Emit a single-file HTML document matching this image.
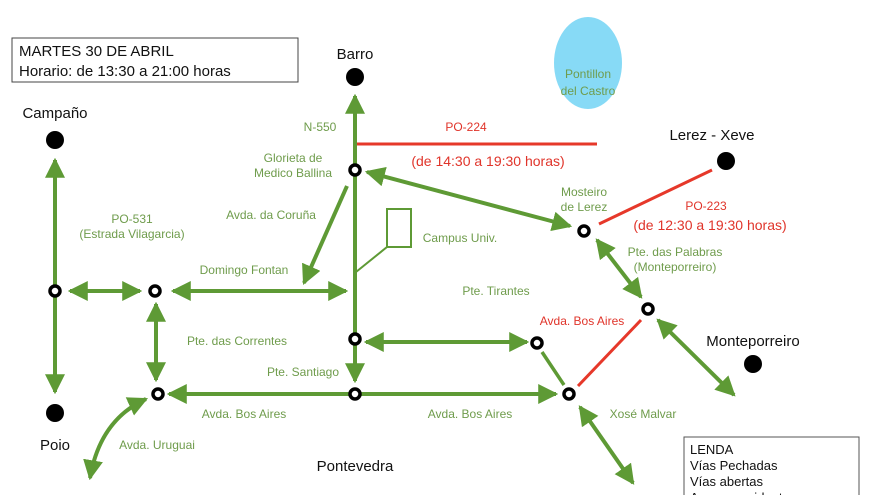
<!DOCTYPE html>
<html><head><meta charset="utf-8"><style>
html,body{margin:0;padding:0;background:#fff;}
svg{display:block;font-family:"Liberation Sans",sans-serif;}
.g{fill:#6f9c4c;font-size:12px;}
.r{fill:#e0342a;}
.k{fill:#111;}
</style></head><body>
<svg width="880" height="495" viewBox="0 0 880 495">
<defs>
<marker id="a" markerUnits="userSpaceOnUse" markerWidth="20" markerHeight="20" refX="16" refY="9" orient="auto-start-reverse" viewBox="0 0 18 18"><path d="M0,0 L18,9 L0,18 Z" fill="#5e9a35"/></marker>
<marker id="s" markerUnits="userSpaceOnUse" markerWidth="10" markerHeight="10" refX="8" refY="5" orient="auto-start-reverse" viewBox="0 0 10 10"><path d="M0,0 L10,5 L0,10 Z" fill="#5e9a35"/></marker>
</defs>
<g stroke="#5e9a35" stroke-width="4" fill="none">
<line x1="355" y1="372" x2="355" y2="96" marker-end="url(#a)"/>
<line x1="355" y1="345" x2="355" y2="381" marker-end="url(#a)"/>
<line x1="55" y1="291" x2="55" y2="160" marker-end="url(#a)"/>
<line x1="55" y1="291" x2="55" y2="392" marker-end="url(#a)"/>
<line x1="70" y1="291" x2="140" y2="291" marker-start="url(#a)" marker-end="url(#a)"/>
<line x1="173" y1="291" x2="346" y2="291" marker-start="url(#a)" marker-end="url(#a)"/>
<line x1="347" y1="186" x2="304" y2="283" marker-end="url(#a)"/>
<line x1="367" y1="172" x2="570" y2="226" marker-start="url(#a)" marker-end="url(#a)"/>
<line x1="597" y1="240" x2="641" y2="297" marker-start="url(#a)" marker-end="url(#a)"/>
<line x1="658" y1="320" x2="734" y2="395" marker-start="url(#a)" marker-end="url(#a)"/>
<line x1="366" y1="342" x2="527" y2="342" marker-start="url(#a)" marker-end="url(#a)"/>
<line x1="542" y1="352" x2="564" y2="385" stroke-width="3.5"/>
<line x1="169" y1="394" x2="556" y2="394" marker-start="url(#a)" marker-end="url(#a)"/>
<line x1="156" y1="304" x2="156" y2="380" marker-start="url(#a)" marker-end="url(#a)"/>
<path d="M146,399 Q100,420 90,478" marker-start="url(#a)" marker-end="url(#a)"/>
<line x1="580" y1="407" x2="633" y2="483" marker-start="url(#a)" marker-end="url(#a)"/>
<rect x="387" y="209" width="24" height="38" stroke-width="2"/>
<line x1="356" y1="272" x2="387" y2="247" stroke-width="2"/>
<line x1="811" y1="482" x2="847" y2="482" stroke-width="2" marker-start="url(#s)" marker-end="url(#s)"/>
</g>
<g stroke="#e6382a" stroke-width="3">
<line x1="357" y1="144" x2="597" y2="144"/>
<line x1="599" y1="224" x2="712" y2="170"/>
<line x1="578" y1="386" x2="641" y2="320"/>
<line x1="808" y1="466" x2="848" y2="466" stroke-width="2.5"/>
</g>
<ellipse cx="588" cy="63" rx="34" ry="46" fill="#87daf6"/>
<g fill="#fff" stroke="#000" stroke-width="3.5">
<circle cx="355" cy="170" r="5"/><circle cx="355" cy="339" r="5"/><circle cx="355" cy="394" r="5"/>
<circle cx="55" cy="291" r="5"/><circle cx="155" cy="291" r="5"/><circle cx="158" cy="394" r="5"/>
<circle cx="537" cy="343" r="5"/><circle cx="569" cy="394" r="5"/><circle cx="584" cy="231" r="5"/><circle cx="648" cy="309" r="5"/>
</g>
<g fill="#000">
<circle cx="355" cy="77" r="9"/><circle cx="55" cy="140" r="9"/><circle cx="726" cy="161" r="9"/><circle cx="753" cy="364" r="9"/><circle cx="55" cy="413" r="9"/>
</g>
<rect x="12" y="38" width="286" height="44" fill="none" stroke="#444" stroke-width="1"/>
<text x="19" y="56" font-size="15" class="k">MARTES 30 DE ABRIL</text>
<text x="19" y="76" font-size="15" class="k">Horario: de 13:30 a 21:00 horas</text>
<g font-size="15" class="k" text-anchor="middle">
<text x="355" y="59">Barro</text><text x="55" y="118">Campaño</text><text x="712" y="140">Lerez - Xeve</text>
<text x="753" y="346">Monteporreiro</text><text x="55" y="450">Poio</text><text x="355" y="471">Pontevedra</text>
</g>
<g class="g" text-anchor="middle">
<text x="588" y="78" font-size="12">Pontillon</text><text x="588" y="95" font-size="12">del Castro</text>
<text x="320" y="131">N-550</text>
<text x="293" y="162">Glorieta de</text><text x="293" y="177">Medico Ballina</text>
<text x="271" y="219">Avda. da Coruña</text>
<text x="132" y="223">PO-531</text><text x="132" y="238">(Estrada Vilagarcia)</text>
<text x="460" y="242">Campus Univ.</text>
<text x="244" y="274">Domingo Fontan</text>
<text x="584" y="196">Mosteiro</text><text x="584" y="211">de Lerez</text>
<text x="675" y="256">Pte. das Palabras</text><text x="675" y="271">(Monteporreiro)</text>
<text x="496" y="295">Pte. Tirantes</text>
<text x="237" y="345">Pte. das Correntes</text>
<text x="303" y="376">Pte. Santiago</text>
<text x="244" y="418">Avda. Bos Aires</text><text x="470" y="418">Avda. Bos Aires</text>
<text x="643" y="418">Xosé Malvar</text>
<text x="157" y="449">Avda. Uruguai</text>
</g>
<g class="r" text-anchor="middle" font-size="12">
<text x="466" y="131">PO-224</text>
<text x="488" y="166" font-size="14">(de 14:30 a 19:30 horas)</text>
<text x="706" y="210">PO-223</text>
<text x="710" y="230" font-size="14">(de 12:30 a 19:30 horas)</text>
<text x="582" y="325">Avda. Bos Aires</text>
</g>
<rect x="684" y="437" width="175" height="70" fill="#fff" stroke="#555" stroke-width="1"/>
<g font-size="13" class="k">
<text x="690" y="454">LENDA</text><text x="690" y="470">Vías Pechadas</text><text x="690" y="486">Vías abertas</text><text x="690" y="502">Acceso residentes</text>
</g>
</svg>
</body></html>
